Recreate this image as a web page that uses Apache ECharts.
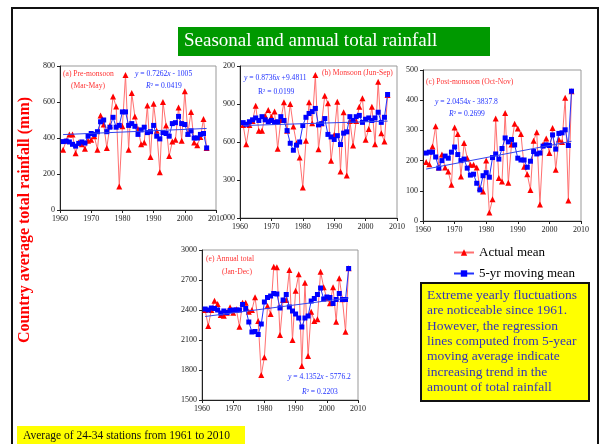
<!doctype html>
<html lang="en">
<head>
    <meta charset="utf-8">
    <title>Seasonal and annual total rainfall</title>
    <script src="https://cdn.jsdelivr.net/npm/echarts@6/dist/echarts.min.js"></script>
    <style>
        html, body {margin: 0; padding: 0; background: #fff;}
        #chart {width: 602px; height: 444px;}
    </style>
</head>
<body>
<div id="chart"></div>
<script>
    // years 1961-2007
    const years = [];
    for (let y = 1961; y <= 2007; y++) years.push(y);

    const preActual = [335, 385, 420, 420, 315, 375, 365, 340, 385, 390, 410, 335, 525, 475, 345, 470, 630, 575, 130, 465,
        750, 335, 650, 520, 450, 365, 375, 580, 295, 590, 440, 210, 600, 470, 300, 380, 390, 570, 385, 660,
        425, 545, 375, 360, 405, 505, 345];
    const preMoving = [380, 383, 378, 365, 355, 370, 378, 372, 410, 425, 420, 435, 490, 500, 435, 460, 515, 460, 470, 545,
        545, 470, 480, 465, 420, 445, 460, 430, 435, 470, 410, 395, 430, 425, 410, 480, 485, 520, 480, 475,
        420, 440, 400, 400, 420, 425, 345];
    const preTrend = [[1961, 419], [2007, 453]];

    const monActual = [735, 583, 735, 766, 887, 688, 688, 808, 853, 800, 840, 546, 774, 913, 688, 900, 722, 590, 478, 241,
        609, 913, 748, 1128, 543, 748, 966, 905, 451, 656, 918, 367, 835, 336, 766, 572, 766, 879, 945, 617,
        703, 879, 583, 1076, 669, 604, 971];
    const monMoving = [753, 740, 760, 775, 790, 770, 800, 775, 760, 770, 755, 760, 800, 770, 690, 590, 535, 575, 600, 730,
        795, 825, 840, 865, 735, 745, 785, 660, 640, 620, 650, 580, 670, 680, 800, 770, 800, 810, 755, 780,
        790, 770, 790, 835, 755, 795, 975];
    const monTrend = [[1961, 730], [2007, 765]];
    const monTickLabels = ['000', '300', '600', '900', '200'];

    const postActual = [195, 188, 247, 314, 177, 220, 177, 164, 120, 310, 288, 147, 258, 208, 186, 186, 177, 109, 98, 200,
        28, 72, 339, 142, 131, 358, 127, 253, 322, 306, 288, 180, 155, 103, 266, 294, 55, 253, 273, 225,
        308, 170, 270, 262, 408, 68, 430];
    const postMoving = [225, 228, 228, 212, 175, 200, 215, 208, 228, 245, 220, 200, 205, 175, 152, 155, 125, 103, 150, 160,
        145, 210, 222, 205, 240, 275, 262, 270, 252, 208, 202, 202, 178, 198, 230, 222, 225, 248, 252, 250,
        285, 238, 290, 292, 302, 250, 430];
    const postTrend = [[1961, 172], [2007, 264]];

    const annActual = [2400, 2240, 2400, 2493, 2460, 2350, 2343, 2373, 2427, 2373, 2407, 2233, 2473, 2473, 2383, 2400, 2527, 2290, 1750, 1927,
        2440, 2360, 2833, 2827, 2150, 2500, 2500, 2800, 2100, 2593, 2757, 1840, 2673, 1940, 2383, 2290, 2307, 2783, 2627, 2517,
        2467, 2627, 2283, 2717, 2507, 2183, 2817];
    const annMoving = [2410, 2400, 2420, 2415, 2400, 2370, 2390, 2375, 2395, 2400, 2400, 2400, 2455, 2415, 2280, 2180, 2185, 2155, 2260, 2480,
        2525, 2540, 2565, 2560, 2420, 2500, 2555, 2430, 2390, 2360, 2320, 2230, 2320, 2340, 2490, 2515, 2555, 2620, 2510, 2530,
        2525, 2465, 2505, 2565, 2505, 2505, 2815];
    const annTrend = [[1961, 2335], [2007, 2520]];

    const SERIF = 'Liberation Serif';

    function pairs(arr) {
        return years.map((y, i) => [y, arr[i]]);
    }

    function xAxis(gi) {
        return {
            type: 'value', gridIndex: gi, min: 1960, max: 2010, interval: 10,
            axisLine: {lineStyle: {color: '#222'}},
            axisTick: {show: true, length: 3, lineStyle: {color: '#222'}},
            axisLabel: {fontSize: 8, fontFamily: SERIF, color: '#222', margin: 5, formatter: v => String(v)},
            splitLine: {show: false}
        };
    }

    function yAxis(gi, min, max, interval, labels) {
        return {
            type: 'value', gridIndex: gi, min: min, max: max, interval: interval,
            axisLine: {show: true, lineStyle: {color: '#222'}},
            axisTick: {show: true, length: 3, lineStyle: {color: '#222'}},
            axisLabel: {
                fontSize: 8, fontFamily: SERIF, color: '#222', margin: 5,
                formatter: function (v) {
                    return labels ? labels[Math.round((v - min) / interval)] : String(v);
                }
            },
            splitLine: {show: false}
        };
    }

    function panelSeries(gi, actual, moving, trend) {
        return [
            {
                name: 'Actual mean', type: 'line', xAxisIndex: gi, yAxisIndex: gi,
                data: pairs(actual), symbol: 'triangle', symbolSize: 6,
                itemStyle: {color: '#ff0000'}, lineStyle: {color: '#ff7070', width: 1}, z: 2
            },
            {
                name: '5-yr moving mean', type: 'line', xAxisIndex: gi, yAxisIndex: gi,
                data: pairs(moving), symbol: 'rect', symbolSize: 5,
                itemStyle: {color: '#0000ff'}, lineStyle: {color: '#2233ff', width: 1}, z: 3
            },
            {
                name: 'trend' + gi, type: 'line', xAxisIndex: gi, yAxisIndex: gi,
                data: trend, symbol: 'none', silent: true,
                lineStyle: {color: '#3344ee', width: 1}, z: 4
            }
        ];
    }

    // small note inside a panel, y is the text centre
    function note(x, y, text, color) {
        const size = 7.6;
        return {
            type: 'text', x: x, y: y, z: 100,
            style: {
                text: text, fill: color, font: size + 'px ' + SERIF, verticalAlign: 'middle',
                rich: {i: {fontStyle: 'italic', fill: color, fontSize: size, fontFamily: SERIF}}
            }
        };
    }

    const chart = echarts.init(document.getElementById('chart'));

    const series = [].concat(
        panelSeries(0, preActual, preMoving, preTrend),
        panelSeries(1, monActual, monMoving, monTrend),
        panelSeries(2, postActual, postMoving, postTrend),
        panelSeries(3, annActual, annMoving, annTrend)
    );

    const gridStyle = {show: true, borderColor: '#999', borderWidth: 1, backgroundColor: '#fff'};

    chart.setOption({
        animation: false,
        backgroundColor: '#fff',
        grid: [
            Object.assign({left: 60, top: 66, width: 156, height: 144}, gridStyle),
            Object.assign({left: 240, top: 66, width: 157, height: 152}, gridStyle),
            Object.assign({left: 423, top: 70, width: 158, height: 151}, gridStyle),
            Object.assign({left: 202, top: 250, width: 156, height: 150}, gridStyle)
        ],
        xAxis: [xAxis(0), xAxis(1), xAxis(2), xAxis(3)],
        yAxis: [
            yAxis(0, 0, 800, 200),
            yAxis(1, 0, 1200, 300, monTickLabels),
            yAxis(2, 0, 500, 100),
            yAxis(3, 1500, 3000, 300)
        ],
        legend: {
            data: ['Actual mean', '5-yr moving mean'],
            orient: 'vertical', left: 448, top: 241,
            itemWidth: 20, itemHeight: 8, itemGap: 8,
            textStyle: {fontFamily: SERIF, fontSize: 13, color: '#000'}
        },
        series: series,
        graphic: [
            // slide frame
            {type: 'rect', z: 0, shape: {x: 12, y: 8, width: 586, height: 460},
                style: {fill: 'none', stroke: '#111', lineWidth: 2}},
            // title
            {type: 'rect', z: 50, shape: {x: 178, y: 27, width: 312, height: 29}, style: {fill: '#009900'}},
            {type: 'text', z: 51, x: 184, y: 41,
                style: {text: 'Seasonal and annual total rainfall', fill: '#fff', font: '19px ' + SERIF, verticalAlign: 'middle'}},
            // y axis label
            {type: 'text', z: 50, x: 25, y: 220, rotation: Math.PI / 2,
                style: {text: 'Country average total rainfall (mm)', fill: '#ff0000', font: 'bold 16px ' + SERIF,
                    align: 'center', verticalAlign: 'middle'}},
            // panel notes
            note(63, 74, '(a) Pre-monsoon', '#ff3333'),
            note(71, 86, '(Mar-May)', '#ff3333'),
            note(135, 74, '{i|y} = 0.7262{i|x} - 1005', '#2233ff'),
            note(146, 86, '{i|R}² = 0.0419', '#2233ff'),
            note(244, 78, '{i|y} = 0.8736{i|x} +9.4811', '#2233ff'),
            note(258, 92, 'R² = 0.0199', '#2233ff'),
            note(322, 73, '(b) Monsoon (Jun-Sep)', '#ff3333'),
            note(426, 82, '(c) Post-monsoon (Oct-Nov)', '#ff3333'),
            note(435, 102, '{i|y} = 2.0454{i|x} - 3837.8', '#2233ff'),
            note(449, 114, '{i|R}² = 0.2699', '#2233ff'),
            note(206, 259, '(e) Annual total', '#ff3333'),
            note(222, 272, '(Jan-Dec)', '#ff3333'),
            note(288, 377, '{i|y} = 4.1352{i|x} - 5776.2', '#2233ff'),
            note(302, 392, '{i|R}² = 0.2203', '#2233ff'),
            // yellow remark box
            {type: 'rect', z: 50, shape: {x: 421, y: 283, width: 168, height: 118},
                style: {fill: '#ffff00', stroke: '#111', lineWidth: 2}},
            {type: 'text', z: 51, x: 427, y: 288,
                style: {
                    text: 'Extreme yearly fluctuations\nare noticeable since 1961.\nHowever, the regression\nlines computed from 5-year\nmoving average indicate\nincreasing trend in the\namount of total rainfall',
                    fill: '#3333bb', font: '13.5px ' + SERIF, lineHeight: 15.3
                }},
            // footnote
            {type: 'rect', z: 50, shape: {x: 17, y: 426, width: 228, height: 18}, style: {fill: '#ffff00'}},
            {type: 'text', z: 51, x: 23, y: 436,
                style: {text: 'Average of 24-34 stations from 1961 to 2010', fill: '#111', font: '11.5px ' + SERIF,
                    verticalAlign: 'middle'}}
        ]
    });

    window.onresize = function () {
        chart.resize();
    };
</script>
</body>
</html>
